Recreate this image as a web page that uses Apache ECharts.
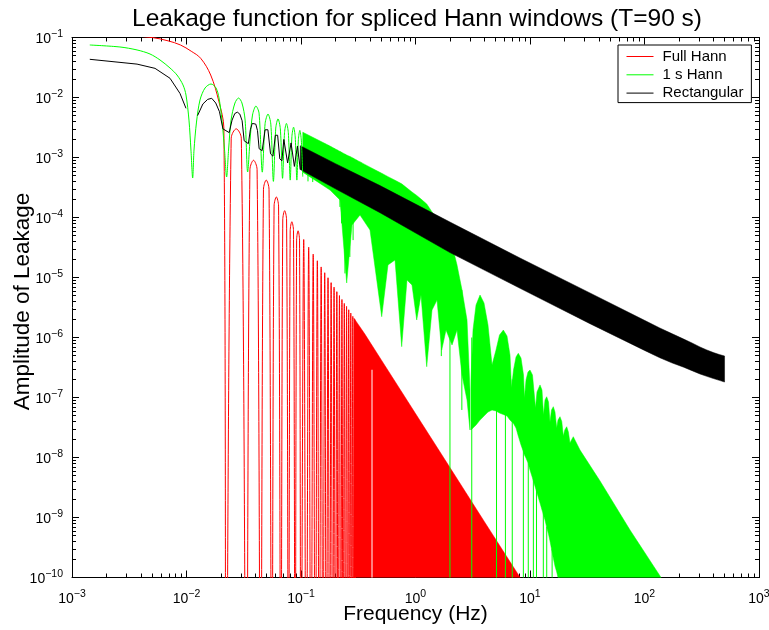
<!DOCTYPE html>
<html>
<head>
<meta charset="utf-8">
<script src="https://cdn.jsdelivr.net/npm/echarts@6/dist/echarts.min.js"></script>
<style>
  html, body { margin: 0; padding: 0; background: #fff; }
  #chart { width: 769px; height: 630px; }
</style>
</head>
<body>
<div id="chart"></div>
<script>
// ---- axes -------------------------------------------------------------
const xTickPowers = [-3, -2, -1, 0, 1, 2, 3];
const yTickPowers = [-10, -9, -8, -7, -6, -5, -4, -3, -2, -1];
const seriesNames = ['Full Hann', '1 s Hann', 'Rectangular'];
const seriesColors = ['#ff0000', '#00ff00', '#000000'];

// ---- Full Hann -------------------------------------------------------
// main lobe and resolved side lobes, [frequency Hz, amplitude]; 1e-13 marks a null
const fullHannCurve = [
  [0.00143, 0.113], [0.003, 0.108], [0.005, 0.1], [0.0069, 0.088], [0.00886, 0.075],
  [0.011, 0.059], [0.0133, 0.045], [0.01626, 0.0237], [0.0192, 0.0085], [0.0212, 0.0031],
  [0.0222, 1e-13], [0.02457, 2.1e-3], [0.0272, 3.0e-3], [0.0301, 2.1e-3],
  [0.0333, 1e-13], [0.0358, 6.3e-4], [0.0385, 9.0e-4], [0.04135, 6.3e-4],
  [0.0444, 1e-13], [0.0470, 2.95e-4], [0.0497, 4.2e-4], [0.05257, 2.95e-4],
  [0.0556, 1e-13], [0.0582, 1.55e-4], [0.0609, 2.2e-4], [0.0637, 1.55e-4],
  [0.0667, 1e-13], [0.0693, 9.1e-5], [0.072, 1.3e-4], [0.07484, 9.1e-5],
  [0.0778, 1e-13], [0.08045, 6.0e-5], [0.0832, 8.5e-5], [0.086, 6.0e-5],
  [0.0889, 1e-13], [0.09157, 4.2e-5], [0.0943, 6.0e-5], [0.0971, 4.2e-5],
  [0.1, 1e-13], [0.1056, 4.3e-5], [0.1111, 1e-13], [0.1167, 3.2e-5],
  [0.1222, 1e-13], [0.1278, 2.45e-5], [0.1333, 1e-13], [0.1389, 1.9e-5],
  [0.1444, 1e-13], [0.15, 1.5e-5], [0.1556, 1e-13], [0.1611, 1.2e-5],
  [0.1667, 1e-13], [0.1722, 9.9e-6], [0.1778, 1e-13], [0.1833, 8.2e-6],
  [0.1889, 1e-13], [0.1944, 6.9e-6], [0.2, 1e-13], [0.2056, 5.8e-6],
  [0.2111, 1e-13], [0.2167, 5.0e-6], [0.2222, 1e-13], [0.2278, 4.3e-6],
  [0.2333, 1e-13], [0.2389, 3.7e-6], [0.2444, 1e-13], [0.25, 3.3e-6],
  [0.2556, 1e-13], [0.2611, 2.9e-6], [0.2667, 1e-13], [0.2722, 2.55e-6],
  [0.2778, 1e-13], [0.2833, 2.25e-6], [0.2889, 1e-13], [0.2944, 2.0e-6],
  [0.3, 1e-13]
];
// unresolved side lobes: upper envelope, filled down to the floor
const fullHannFill = [
  [0.29, 2.1e-6], [0.36, 1.15e-6], [0.5, 4.3e-7], [1.0, 5.4e-8],
  [2.0, 6.8e-9], [4.0, 8.5e-10], [8.2, 1e-10], [8.6, 1e-11]
];
// gap left in the dense side lobes, [frequency, from, to]
const fullHannGaps = [[0.417, 2.9e-7, 1e-11]];

// ---- 1 s Hann --------------------------------------------------------
const hann1sCurve = [
  [0.00143, 0.075], [0.00262, 0.0695], [0.0037, 0.062], [0.0048, 0.0531], [0.00587, 0.0422],
  [0.00718, 0.031], [0.00826, 0.0237], [0.00932, 0.0162], [0.0099, 0.011], [0.01051, 0.0042],
  [0.01094, 0.00133], [0.01132, 4.55e-4], [0.01163, 0.00133], [0.01223, 0.0039], [0.01312, 0.0091],
  [0.01452, 0.0144], [0.01637, 0.0168], [0.01811, 0.0144], [0.01923, 0.0098], [0.0204, 0.0042],
  [0.0215, 0.00133], [0.0224, 4.73e-4], [0.0233, 0.00133], [0.0245, 0.0042], [0.0265, 0.0081],
  [0.0285, 0.0098], [0.0305, 0.0081], [0.0325, 0.0042], [0.0342, 5.73e-4], [0.0359, 0.00196],
  [0.0377, 0.0051], [0.0404, 0.0072], [0.043, 0.0055], [0.0459, 5.7e-4],
  [0.0486, 3.7e-3], [0.0515, 5.3e-3], [0.0545, 3.6e-3], [0.0574, 4.0e-4],
  [0.0602, 3.1e-3], [0.063, 4.4e-3], [0.066, 3.0e-3], [0.069, 4.5e-4],
  [0.0718, 2.6e-3], [0.0746, 3.7e-3], [0.0775, 2.6e-3], [0.0805, 4.2e-4],
  [0.0833, 2.25e-3], [0.0861, 3.2e-3], [0.089, 2.2e-3], [0.092, 4.2e-4],
  [0.0949, 2.0e-3], [0.0977, 2.83e-3], [0.1006, 1.95e-3], [0.1036, 4.8e-4]
];
// dense lobes below 3 Hz: [frequency, upper edge, lower edge of the solid region]
const hann1sBand = [
  [0.1036, 2.64e-3, 5.7e-4], [0.1792, 1.55e-3, 2.87e-4], [0.2191, 1.26e-3, 1.96e-4],
  [0.2506, 1.10e-3, 8.1e-6], [0.2789, 1.0e-3, 7.5e-5], [0.3276, 8.45e-4, 1.10e-4],
  [0.4005, 6.9e-4, 6.19e-5], [0.5068, 5.46e-4, 2.22e-6], [0.5751, 4.8e-4, 1.62e-5],
  [0.6622, 4.18e-4, 1.96e-5], [0.7577, 3.64e-4, 7.03e-7], [0.8429, 3.1e-4, 9.1e-6],
  [0.932, 2.66e-4, 7.5e-6], [1.0245, 2.33e-4, 1.96e-6], [1.117, 2.03e-4, 5.1e-6],
  [1.2527, 1.68e-4, 3.26e-7], [1.3937, 1.24e-4, 2.87e-6], [1.5409, 9.4e-5, 4.2e-6],
  [1.6937, 7.5e-5, 6.19e-7], [1.847, 5.73e-5, 1.33e-6], [2.0843, 3.48e-5, 7.5e-7],
  [2.304, 1.62e-5, 1.33e-6], [2.5478, 6.19e-6, 2.37e-7], [2.8175, 1.96e-6, 9.1e-8],
  [2.9923, 1.33e-7, 2.87e-8]
];
// side-lobe arches above 3 Hz: [frequency, upper edge, lower edge]
const hann1sTail = [
  [3.053, 1.96e-7, 2.87e-8], [3.178, 1.33e-6, 3.1e-8], [3.377, 3.48e-6, 3.48e-8],
  [3.66, 5.1e-6, 4.2e-8], [3.966, 3.76e-6, 4.92e-8], [4.297, 1.62e-6, 5.73e-8],
  [4.66, 3.48e-7, 6.19e-8], [5.048, 6.19e-7, 5.96e-8], [5.415, 1.10e-6, 5.51e-8],
  [5.85, 1.33e-6, 5.21e-8], [6.297, 1.06e-6, 4.92e-8], [6.688, 5.1e-7, 4.2e-8],
  [6.894, 1.44e-7, 3.98e-8], [7.178, 2.87e-7, 3.69e-8], [7.548, 4.73e-7, 3.1e-8],
  [7.90, 5.45e-7, 2.28e-8], [8.345, 4.55e-7, 1.62e-8], [8.776, 2.37e-7, 1.24e-8],
  [8.95, 9.8e-8, 1.10e-8], [9.228, 1.96e-7, 9.8e-9], [9.606, 2.66e-7, 8.1e-9],
  [10.0, 2.87e-7, 6.19e-9], [10.515, 2.37e-7, 4.55e-9], [11.17, 6.68e-8, 3.1e-9],
  [11.51, 1.24e-7, 2.56e-9], [12.23, 1.62e-7, 1.74e-9], [12.73, 1.33e-7, 1.33e-9],
  [13.12, 5.1e-8, 1.10e-9], [13.52, 9.1e-8, 9.1e-10], [13.99, 1.03e-7, 6.9e-10],
  [14.51, 8.4e-8, 5.3e-10], [14.95, 3.9e-8, 4.06e-10], [15.41, 6.19e-8, 2.99e-10],
  [15.98, 7.03e-8, 2.11e-10], [16.53, 5.73e-8, 1.55e-10], [17.11, 3.1e-8, 1.24e-10],
  [17.56, 4.2e-8, 1e-10], [18.28, 4.79e-8, 1e-11], [18.95, 3.98e-8, 1e-11],
  [19.54, 2.28e-8, 1e-11], [20.13, 2.87e-8, 1e-11], [20.92, 3.26e-8, 1e-11],
  [21.64, 2.66e-8, 1e-11], [22.35, 1.74e-8, 1e-11], [23.04, 1.96e-8, 1e-11],
  [23.88, 2.22e-8, 1e-11], [27.34, 1.33e-8, 1e-11], [40.9, 4.06e-9, 1e-11],
  [74.7, 6.19e-10, 1e-11], [139.4, 1e-10, 1e-11], [145, 4.2e-11, 1e-11]
];
// isolated deep nulls: [frequency, from, to]
const hann1sSpikes = [
  [0.1151, 2.3e-3, 4.0e-4], [0.1266, 2.1e-3, 3.9e-4], [0.1382, 1.95e-3, 4.3e-4],
  [0.1497, 1.8e-3, 3.8e-4], [0.1612, 1.7e-3, 3.7e-4], [0.1728, 1.6e-3, 3.4e-4],
  [0.1843, 1.5e-3, 3.1e-4], [0.1958, 1.4e-3, 3.0e-4], [0.2074, 1.34e-3, 2.9e-4],
  [0.2189, 1.27e-3, 1.5e-4], [0.226, 1.22e-3, 8e-5],
  [0.242, 1.14e-3, 1.17e-5], [0.267, 1.04e-3, 2.2e-5],
  [0.285, 9.7e-4, 4.2e-5], [0.305, 9.1e-4, 1.03e-4], [0.327, 8.5e-4, 1.33e-4],
  [0.338, 8.2e-4, 1.73e-4], [1.68, 7.5e-5, 4.9e-7], [2.54, 6.2e-6, 6.2e-8],
  [2.0, 3.5e-5, 1e-11], [3.1, 1e-6, 1e-11], [5.1, 6e-7, 1e-11], [6.1, 1e-6, 1e-11],
  [7.0, 2e-7, 1e-11], [8.75, 1.5e-8, 1e-11], [9.66, 8e-9, 1e-11], [10.7, 4.5e-9, 1e-11],
  [11.4, 3e-9, 1e-11], [13.07, 1.2e-9, 1e-11], [14.0, 7e-10, 1e-11], [15.6, 3e-10, 1e-11]
];

// ---- Rectangular -----------------------------------------------------
const rectCurve = [
  [0.00143, 0.0433], [0.0037, 0.036], [0.00531, 0.0306], [0.00718, 0.0209], [0.00877, 0.0117],
  [0.0099, 0.0066], [0.0111, '-'], [0.0125, 0.0050], [0.0139, 0.0078], [0.0153, 0.0093],
  [0.0166, 0.0097], [0.018, 0.0081], [0.0194, 0.0058], [0.0208, 0.0030], [0.0236, 0.0026],
  [0.0250, 0.0042], [0.0264, 0.0054], [0.0278, 0.0057], [0.0292, 0.0053], [0.0306, 0.0041],
  [0.0319, 0.0019], [0.0347, 1.7e-3], [0.0361, 2.9e-3], [0.0375, 3.7e-3], [0.0389, 3.9e-3],
  [0.0403, 3.6e-3], [0.0417, 2.8e-3], [0.0431, 1.4e-3], [0.0458, 1.3e-3], [0.0486, 2.9e-3],
  [0.05, 3.1e-3], [0.0514, 2.9e-3], [0.0542, 1.15e-3], [0.0569, 1.05e-3], [0.0597, 2.35e-3],
  [0.0611, 2.5e-3], [0.0625, 2.35e-3], [0.0653, 0.95e-3], [0.0681, 0.88e-3], [0.0708, 2.0e-3],
  [0.0722, 2.1e-3], [0.0736, 2.0e-3], [0.0764, 0.81e-3], [0.0792, 0.76e-3], [0.0819, 1.75e-3],
  [0.0833, 1.85e-3], [0.0847, 1.75e-3], [0.0875, 0.71e-3], [0.0903, 0.67e-3], [0.0931, 1.55e-3],
  [0.0944, 1.63e-3], [0.0958, 1.55e-3], [0.0986, 0.63e-3]
];
const rectBand = [
  [0.0986, 1.57e-3, 6.3e-4], [0.2, 7.9e-4, 3.0e-4], [0.49, 3.4e-4, 1.2e-4],
  [2.0, 8.4e-5, 2.6e-5], [8.18, 2.11e-5, 6.6e-6], [33.4, 5.52e-6, 1.7e-6],
  [100, 1.93e-6, 6.1e-7], [136, 1.44e-6, 4.6e-7], [175, 1.15e-6, 3.75e-7],
  [220, 9.4e-7, 3.2e-7], [260, 8.1e-7, 2.8e-7], [305, 6.95e-7, 2.47e-7],
  [350, 6.2e-7, 2.25e-7], [400, 5.6e-7, 2.07e-7], [450, 5.2e-7, 1.93e-7],
  [500, 4.92e-7, 1.81e-7]
];

// ---- helpers ---------------------------------------------------------
const FONT = '"Liberation Sans", Arial, Helvetica, sans-serif';

function lineSeries(name, data, color, smooth) {
  return {
    type: 'line', name, data, symbol: 'none', smooth: smooth, clip: true,
    connectNulls: false, silent: true,
    lineStyle: { color, width: 1 }, itemStyle: { color }
  };
}

// filled strip between an upper and a lower edge, drawn as one outline
function bandSeries(name, rows, color) {
  return {
    type: 'custom', name, data: rows, clip: true, silent: true,
    encode: { x: 0, y: [1, 2] },
    itemStyle: { color },
    renderItem: function (params, api) {
      if (params.dataIndex !== 0) return null;
      const upper = rows.map(r => api.coord([r[0], r[1]]));
      const lower = rows.map(r => api.coord([r[0], r[2]])).reverse();
      return {
        type: 'polygon', shape: { points: upper.concat(lower) },
        style: { fill: color, stroke: color, lineWidth: 0.5 }
      };
    }
  };
}
function envelopeRows(rows, floor) {
  return rows.map(r => [r[0], r[1], floor]);
}

// vertical strokes at single frequencies
function spikeSeries(name, rows, color) {
  return {
    type: 'custom', name, data: rows, clip: true, silent: true,
    encode: { x: 0, y: [1, 2] },
    itemStyle: { color },
    renderItem: function (params, api) {
      const a = api.coord([api.value(0), api.value(1)]);
      const b = api.coord([api.value(0), api.value(2)]);
      return {
        type: 'line', shape: { x1: a[0], y1: a[1], x2: b[0], y2: b[1] },
        style: { stroke: color, lineWidth: 1 }
      };
    }
  };
}

function minorValues(powers) {
  const out = [];
  for (let i = 0; i < powers.length - 1; i++) {
    for (let m = 2; m <= 9; m++) out.push(m * Math.pow(10, powers[i]));
  }
  return out;
}
function majorValues(powers) { return powers.map(p => Math.pow(10, p)); }

const richLabel = {
  b: { fontFamily: FONT, fontSize: 14, color: '#000', lineHeight: 18, verticalAlign: 'bottom' },
  e: { fontFamily: FONT, fontSize: 10.5, color: '#000', lineHeight: 11, verticalAlign: 'top' }
};
function powLabel(v) {
  const p = Math.round(Math.log10(v));
  return '{b|10}{e|' + String(p).replace('-', '\u2212') + '}';
}

function makeAxis(dim, pos, powers, major, withLabels, extra) {
  const ax = {
    type: 'log', logBase: 10, position: pos,
    min: Math.pow(10, powers[0]), max: Math.pow(10, powers[powers.length - 1]),
    splitLine: { show: false },
    axisLine: { show: major, onZero: false, lineStyle: { color: '#000', width: 1 } },
    axisTick: {
      show: true, inside: true, length: major ? 7 : 4,
      customValues: major ? majorValues(powers) : minorValues(powers),
      lineStyle: { color: '#000', width: 1 }
    },
    axisLabel: withLabels ? {
      show: true, formatter: powLabel, rich: richLabel,
      customValues: majorValues(powers), margin: dim === 'x' ? 11 : 9
    } : { show: false }
  };
  return Object.assign(ax, extra || {});
}

const xAxes = [
  makeAxis('x', 'bottom', xTickPowers, true, true, {
    name: 'Frequency (Hz)', nameLocation: 'middle', nameGap: 26, nameMoveOverlap: false,
    nameTextStyle: { fontFamily: FONT, fontSize: 21, color: '#000' }
  }),
  makeAxis('x', 'bottom', xTickPowers, false, false),
  makeAxis('x', 'top', xTickPowers, true, false),
  makeAxis('x', 'top', xTickPowers, false, false)
];
const yAxes = [
  makeAxis('y', 'left', yTickPowers, true, true, {
    name: 'Amplitude of Leakage', nameLocation: 'middle', nameGap: 38, nameMoveOverlap: false,
    nameTextStyle: { fontFamily: FONT, fontSize: 22.5, color: '#000', padding: [0, 0, 0, 12] }
  }),
  makeAxis('y', 'left', yTickPowers, false, false),
  makeAxis('y', 'right', yTickPowers, true, false),
  makeAxis('y', 'right', yTickPowers, false, false)
];

const option = {
  animation: false,
  backgroundColor: '#fff',
  title: {
    text: 'Leakage function for spliced Hann windows (T=90 s)',
    left: 412, textAlign: 'center', top: 2,
    textStyle: { fontFamily: FONT, fontSize: 24.5, fontWeight: 'normal', color: '#000' }
  },
  grid: { left: 72, right: 10, top: 37.5, bottom: 52.5, containLabel: false, outerBoundsMode: 'none' },
  legend: {
    data: seriesNames, orient: 'vertical', left: 618, top: 45,
    itemWidth: 27, itemHeight: 14, itemGap: 3.3,
    padding: [4, 8, 2, 8], borderColor: '#000', borderWidth: 1, borderRadius: 0,
    backgroundColor: '#fff', selectedMode: false,
    itemStyle: { opacity: 0 },
    lineStyle: { width: 1 },
    textStyle: { fontFamily: FONT, fontSize: 15, color: '#000', lineHeight: 14, padding: [0, 0, 0, 4] }
  },
  xAxis: xAxes,
  yAxis: yAxes,
  series: [
    lineSeries(seriesNames[0], fullHannCurve, seriesColors[0], 0.35),
    bandSeries(seriesNames[0], envelopeRows(fullHannFill, 1e-11), seriesColors[0]),
    spikeSeries('', fullHannGaps, '#ffffff'),
    lineSeries(seriesNames[1], hann1sCurve, seriesColors[1], 0.3),
    bandSeries(seriesNames[1], hann1sBand, seriesColors[1]),
    bandSeries(seriesNames[1], hann1sTail, seriesColors[1]),
    spikeSeries(seriesNames[1], hann1sSpikes, seriesColors[1]),
    lineSeries(seriesNames[2], rectCurve, seriesColors[2], false),
    bandSeries(seriesNames[2], rectBand, seriesColors[2])
  ]
};

const chart = echarts.init(document.getElementById('chart'), null, { renderer: 'canvas' });
chart.setOption(option);
</script>
</body>
</html>
